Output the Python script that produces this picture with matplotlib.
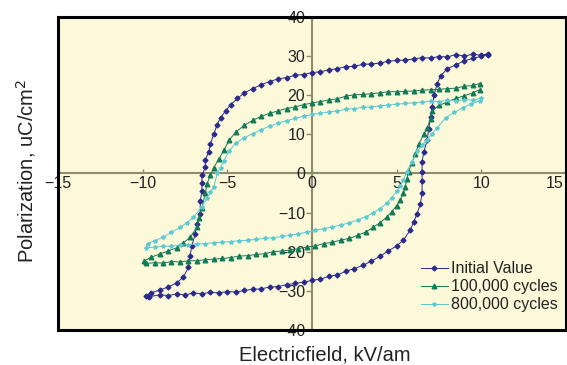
import numpy as np
import matplotlib.pyplot as plt
from matplotlib.patches import Rectangle
from matplotlib.transforms import ScaledTranslation

# hysteresis loops: upper branch (right -> left), then lower branch (left -> right)
init_x = [10.4, 10.0, 9.5, 9.0, 8.5, 8.0, 7.5, 7.0, 6.5, 6.0, 5.5, 5.0, 4.5, 4.0, 3.5, 3.0, 2.5, 2.0, 1.5, 1.0,
          0.5, 0.0, -0.5, -1.0, -1.5, -2.0, -2.5, -3.0, -3.5, -4.0, -4.4, -4.8, -5.1, -5.4, -5.6, -5.8, -6.0, -6.1,
          -6.3, -6.3, -6.5, -6.5, -6.5, -6.6, -6.6, -6.8, -6.9, -7.1, -7.2, -7.3, -7.6, -8.0, -8.5, -9.0, -9.5, -9.8,
          -9.6, -9.0, -8.5, -8.0, -7.5, -7.0, -6.5, -6.0, -5.5, -5.0, -4.5, -4.0, -3.5, -3.0, -2.5, -2.0, -1.5, -1.0,
          -0.5, 0.0, 0.5, 1.0, 1.5, 2.0, 2.5, 3.0, 3.5, 4.0, 4.5, 5.0, 5.4, 5.8, 6.0, 6.2, 6.4, 6.5, 6.5, 6.5,
          6.5, 6.6, 6.8, 6.9, 7.0, 7.1, 7.2, 7.4, 7.6, 8.0, 8.5, 9.0, 9.5, 10.0, 10.4]
init_y = [30.6, 30.2, 30.5, 30.0, 30.4, 29.8, 29.9, 29.5, 29.6, 29.3, 29.0, 28.9, 28.7, 28.2, 28.0, 27.9, 27.4, 27.3,
          26.8, 26.5, 26.0, 25.8, 25.3, 25.1, 24.5, 24.2, 23.5, 22.7, 21.7, 20.6, 19.2, 17.6, 16.0, 14.3, 12.5, 10.1,
          7.5, 5.5, 3.5, 1.6, -0.5, -2.5, -4.5, -7.0, -10.3, -13.0, -15.5, -18.5, -21.0, -24.0, -26.5, -28.0, -29.0,
          -29.8, -30.5, -31.2,
          -31.5, -31.0, -31.2, -30.8, -31.0, -30.6, -30.7, -30.4, -30.5, -30.2, -30.3, -29.9, -29.6, -29.5, -29.0,
          -28.9, -28.4, -28.1, -27.8, -27.3, -27.0, -26.3, -25.9, -25.0, -24.3, -23.5, -22.4, -21.2, -19.8, -18.5,
          -17.0, -14.5, -12.5, -10.3, -7.8, -5.0, -2.0, 0.5, 3.0, 5.5, 8.5, 11.5, 14.5, 17.0, 20.0, 23.0, 25.0, 26.8,
          27.8, 28.8, 29.4, 30.0, 30.4]

c100k_x = [9.9, 9.5, 9.0, 8.5, 8.0, 7.5, 7.0, 6.5, 6.0, 5.5, 5.0, 4.5, 4.0, 3.5, 3.0, 2.5, 2.0, 1.5, 1.0, 0.5, 0.0,
           -0.5, -1.0, -1.5, -2.0, -2.5, -3.0, -3.5, -4.0, -4.5, -4.9, -5.2, -5.5, -5.8, -6.0, -6.2, -6.3, -6.5,
           -6.7, -6.8, -7.2, -7.6, -8.0, -8.5, -9.0, -9.5, -9.9,
           -9.8, -9.3, -8.8, -8.3, -7.8, -7.3, -6.8, -6.3, -5.8, -5.3, -4.8, -4.3, -3.8, -3.3, -2.8, -2.3, -1.8,
           -1.3, -0.8, -0.3, 0.2, 0.7, 1.2, 1.7, 2.2, 2.7, 3.2, 3.6, 4.0, 4.4, 4.7, 5.0, 5.2, 5.4, 5.5, 5.6, 5.7,
           5.9, 6.1, 6.3, 6.6, 6.8, 7.0, 7.1, 7.5, 8.0, 8.5, 9.0, 9.5, 9.9]
c100k_y = [23.0, 22.5, 22.3, 21.8, 21.7, 21.5, 21.4, 21.3, 21.1, 21.0, 20.9, 20.9, 20.6, 20.4, 20.2, 20.1, 19.8,
           19.1, 18.8, 18.4, 18.0, 17.6, 17.0, 16.6, 16.0, 15.4, 14.6, 13.6, 12.3, 10.6, 8.5, 6.0, 3.7, 1.5, -0.5,
           -2.6, -5.0, -8.7, -11.5, -13.8, -16.3, -17.8, -19.0, -19.8, -20.6, -21.4, -22.3,
           -23.0, -22.8, -22.9, -22.5, -22.6, -22.3, -22.3, -22.0, -21.9, -21.7, -21.5, -21.1, -21.0, -20.7, -20.5,
           -20.0, -19.8, -19.6, -19.2, -18.8, -18.5, -17.9, -17.6, -17.0, -16.6, -15.8, -14.9, -13.8, -12.6, -11.2,
           -9.8, -8.2, -6.9, -5.0, -3.5, -1.5, 0.5, 2.8, 5.0, 7.5, 10.0, 11.7, 14.0, 16.0, 17.4, 18.3, 19.2, 19.9,
           20.6, 21.4]

c800k_x = [10.0, 9.5, 9.0, 8.5, 8.0, 7.5, 7.0, 6.5, 6.0, 5.5, 5.0, 4.5, 4.0, 3.5, 3.0, 2.5, 2.0, 1.5, 1.0, 0.5,
           0.0, -0.5, -1.0, -1.5, -2.0, -2.5, -3.0, -3.5, -4.0, -4.5, -4.9, -5.2, -5.4, -5.6, -5.8, -6.0, -6.2,
           -6.5, -7.0, -7.4, -7.8, -8.3, -8.8, -9.3, -9.7,
           -9.8, -9.3, -8.8, -8.3, -7.8, -7.3, -6.8, -6.3, -5.8, -5.3, -4.8, -4.3, -3.8, -3.3, -2.8, -2.3, -1.8,
           -1.3, -0.8, -0.3, 0.2, 0.7, 1.2, 1.7, 2.2, 2.7, 3.2, 3.6, 4.0, 4.4, 4.7, 5.0, 5.2, 5.4, 5.6, 5.9, 6.2,
           6.5, 6.8, 7.1, 7.4, 7.9, 8.4, 8.9, 9.4, 9.9]
c800k_y = [19.2, 18.8, 18.8, 18.6, 18.7, 18.4, 18.5, 18.2, 18.1, 17.9, 17.7, 17.5, 17.3, 17.0, 16.9, 16.6, 16.4,
           16.0, 15.7, 15.4, 15.1, 14.6, 14.1, 13.5, 12.9, 12.1, 11.2, 10.2, 9.1, 7.8, 5.7, 3.3, 1.5, 0.0, -3.5,
           -4.8, -6.2, -8.5, -11.2, -12.6, -13.8, -15.0, -16.3, -17.2, -17.9,
           -19.0, -18.8, -18.6, -18.6, -18.3, -18.2, -18.0, -17.9, -17.7, -17.6, -17.4, -17.2, -17.1, -16.8, -16.6,
           -16.4, -16.1, -15.8, -15.4, -15.0, -14.5, -14.1, -13.6, -13.2, -12.6, -11.9, -11.0, -10.1, -9.0, -7.6,
           -6.2, -4.6, -3.3, -1.6, 0.5, 3.0, 5.7, 7.2, 8.6, 10.2, 11.7, 14.3, 15.6, 16.8, 17.8, 18.6]

labels = ['Initial Value', '100,000 cycles', '800,000 cycles']
x_ticks = [-15, -10, -5, 0, 5, 10, 15]
y_ticks = [-40, -30, -20, -10, 0, 10, 20, 30, 40]

fig = plt.figure(figsize=(5.67, 3.65), dpi=100)
ax = fig.add_axes([58 / 567, 1 - 330 / 365, 508 / 567, 313 / 365])
ax.set_facecolor('#fcf9da')

ax.plot(init_x, init_y, color='#2b2a8c', lw=0.7, marker='D', ms=2.5, label=labels[0])
ax.plot(c100k_x, c100k_y, color='#137a57', lw=0.7, marker='^', ms=3.3, label=labels[1])
ax.plot(c800k_x, c800k_y, color='#5cc9d3', lw=0.7, marker='*', ms=3, label=labels[2])

ax.set_xlim(-15, 15)
ax.set_ylim(-40, 40)

# centred axes through the origin, olive grey
for s in ['top', 'right']:
    ax.spines[s].set_visible(False)
ax.spines['left'].set_position(('data', 0))
ax.spines['bottom'].set_position(('data', 0))
ax.spines['left'].set_color('#8e8c6c')
ax.spines['bottom'].set_color('#8e8c6c')
ax.spines['left'].set_linewidth(1.5)
ax.spines['bottom'].set_linewidth(1.5)
ax.spines['left'].set_zorder(0.5)
ax.spines['bottom'].set_zorder(0.5)

# black outer frame
ax.add_patch(Rectangle((0, 0), 1, 1, transform=ax.transAxes, fill=False,
                       ec='black', lw=2.2, clip_on=False, zorder=5))

ax.set_xticks(x_ticks)
ax.set_yticks(y_ticks)
tick_font = ['Liberation Sans Narrow', 'Liberation Sans', 'DejaVu Sans']
for lab in ax.get_xticklabels() + ax.get_yticklabels():
    lab.set_fontfamily(tick_font)
    lab.set_fontsize(11.5)
    lab.set_color('#222222')
ax.tick_params(axis='x', direction='in', length=3, width=1, color='#8e8c6c', pad=2)
ax.tick_params(axis='y', direction='out', length=4, width=1, color='#8e8c6c', pad=1)

# the "15" at the right edge sits on the frame; nudge it in so it is not cut
last = ax.get_xticklabels()[-1]
last.set_transform(last.get_transform() + ScaledTranslation(-11 / 100, 0, fig.dpi_scale_trans))

fig.text(26 / 567, 1 - 171 / 365, 'Polarization, uC/cm$^2$', rotation=90, ha='center', va='center',
         fontsize=14.5, family=['Liberation Sans', 'DejaVu Sans'], color='#222222')
fig.text(325 / 567, 1 - 355 / 365, 'Electricfield, kV/am', ha='center', va='center',
         fontsize=14.5, family=['Liberation Sans', 'DejaVu Sans'], color='#222222')

leg = ax.legend(loc='lower right', bbox_to_anchor=(1.012, 0.01), frameon=False,
                prop={'family': ['Liberation Sans', 'DejaVu Sans'], 'size': 11.5},
                handlelength=1.7, handletextpad=0.2, labelspacing=0.2)
for t in leg.get_texts():
    t.set_color('#222222')

fig.savefig('out.png', dpi=100)
